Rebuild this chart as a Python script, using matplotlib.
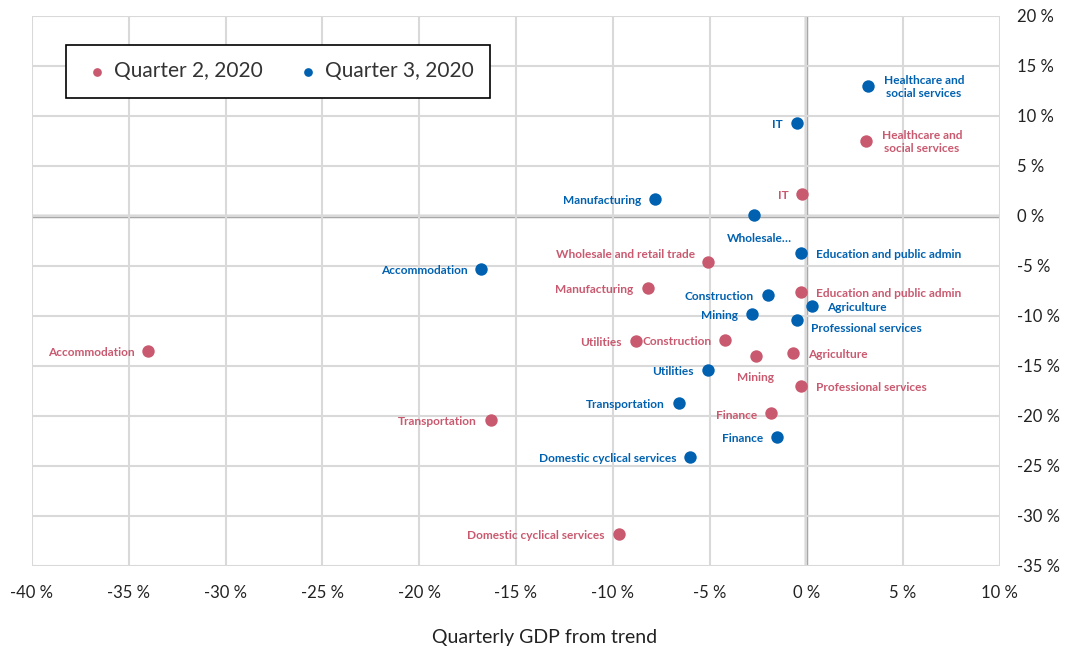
import matplotlib.pyplot as plt
from matplotlib.ticker import FuncFormatter

plt.rcParams['font.family'] = ['Lato', 'DejaVu Sans']

# GDP deviation from trend (%) by sector
sectors_q2 = ["Healthcare and\nsocial services", "IT", "Wholesale and retail trade", "Manufacturing",
              "Education and public admin", "Utilities", "Construction", "Mining", "Agriculture",
              "Professional services", "Finance", "Transportation", "Domestic cyclical services",
              "Accommodation"]
q2_x = [3.1, -0.2, -5.1, -8.2, -0.3, -8.8, -4.2, -2.6, -0.7, -0.3, -1.8, -16.3, -9.7, -34.0]
q2_y = [7.5, 2.2, -4.6, -7.2, -7.6, -12.5, -12.4, -14.0, -13.7, -17.0, -19.7, -20.4, -31.8, -13.5]

sectors_q3 = ["Healthcare and\nsocial services", "IT", "Manufacturing", "Wholesale\u2026",
              "Education and public admin", "Construction", "Agriculture", "Mining",
              "Professional services", "Utilities", "Transportation", "Finance",
              "Domestic cyclical services", "Accommodation"]
q3_x = [3.2, -0.5, -7.8, -2.7, -0.3, -2.0, 0.3, -2.8, -0.5, -5.1, -6.6, -1.5, -6.0, -16.8]
q3_y = [13.0, 9.3, 1.7, 0.1, -3.7, -7.9, -9.0, -9.8, -10.4, -15.4, -18.7, -22.1, -24.1, -5.3]

pink = "#C9596F"
blue = "#0061B0"

# label offsets in points: (dx, dy, ha)
L = (-10, -1, "right")
R = (11, -1, "left")
q2_pos = [R, L, (-9, 5, "right"), L, R, L, L, (0, -16, "center"), R, R, (-10, -2, "right"), L, L, L]
q3_pos = [R, L, L, (4, -17, "center"), R, L, R, L, (10, -6, "left"), L, L, L, L, L]

fig = plt.figure(figsize=(10.66, 6.51), dpi=100)
ax = fig.add_axes([0.030, 0.131, 0.908, 0.845])

ax.scatter(q2_x, q2_y, s=80, color=pink, zorder=3, label="Quarter 2, 2020", linewidths=0)
ax.scatter(q3_x, q3_y, s=80, color=blue, zorder=3, label="Quarter 3, 2020", linewidths=0)

for names, xs, ys, pos, col in [(sectors_q2, q2_x, q2_y, q2_pos, pink),
                                (sectors_q3, q3_x, q3_y, q3_pos, blue)]:
    for name, x, y, (dx, dy, ha) in zip(names, xs, ys, pos):
        ax.annotate(name, (x, y), xytext=(dx, dy), textcoords="offset points",
                    ha=ha, va="center", multialignment="center",
                    fontsize=8.6, fontweight="bold", color=col, zorder=4)

ax.set_xlim(-40, 10)
ax.set_ylim(-35, 20)
ax.set_xticks(range(-40, 11, 5))
ax.set_yticks(range(-35, 21, 5))
pct = FuncFormatter(lambda v, _: f"{v:.0f} %")
ax.xaxis.set_major_formatter(pct)
ax.yaxis.set_major_formatter(pct)
ax.yaxis.tick_right()
ax.tick_params(length=0, labelsize=12, colors="#222222")
ax.tick_params(axis="x", pad=14)
ax.tick_params(axis="y", pad=12)

ax.grid(True, color="#D9D9D9", linewidth=1.5, zorder=0)
ax.axhline(0, color="#A6A6A6", linewidth=2.5, zorder=1)
ax.axvline(0, color="#A6A6A6", linewidth=2.5, zorder=1)
for sp in ax.spines.values():
    sp.set_visible(False)

leg = ax.legend(loc="upper left", bbox_to_anchor=(0.035, 0.947), ncol=2, fontsize=15,
                frameon=True, fancybox=False, edgecolor="black", framealpha=1,
                markerscale=0.7, handletextpad=0.1, columnspacing=1.5,
                borderpad=0.8, handlelength=1.4, borderaxespad=0)
leg.get_frame().set_linewidth(1.2)
for t in leg.get_texts():
    t.set_color("#333333")

fig.text(545 / 1066, 1 - 637 / 651, "Quarterly GDP from trend", ha="center", va="center",
         fontsize=14, color="#222222")

fig.savefig("out.png", dpi=100)
